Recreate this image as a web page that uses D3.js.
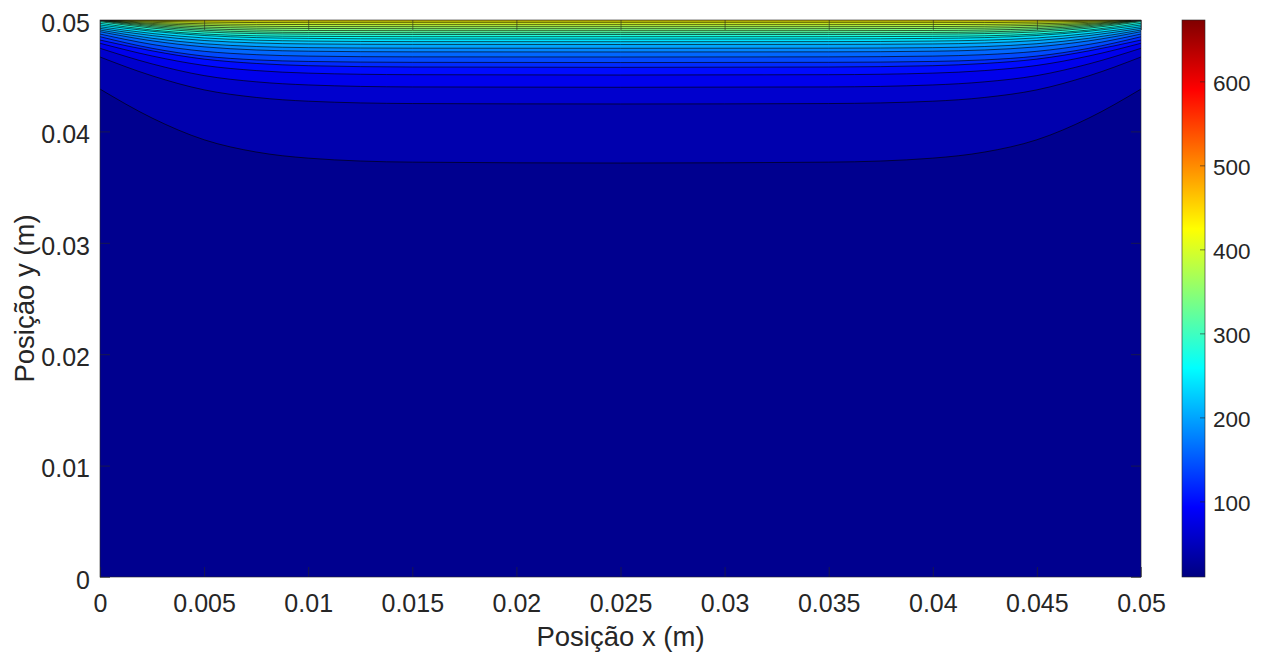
<!DOCTYPE html>
<html>
<head>
<meta charset="utf-8">
<script src="https://cdn.jsdelivr.net/npm/d3@7"></script>
<style>
  html, body { margin: 0; padding: 0; background: #fff; }
  svg { display: block; font-family: "Liberation Sans", Arial, Helvetica, sans-serif; }
</style>
</head>
<body>
<div id="chart"></div>
<script>
const xRead = [0, 0.0025, 0.005, 0.0075, 0.01, 0.015, 0.025, 0.035, 0.04, 0.0425, 0.045, 0.0475, 0.05]

// temperature of each filled band, lowest first (band 0 is the background,
// band i > 0 lies above contour line i - 1)
const bandTemps = [20, 40, 60, 80, 100, 120, 140, 160, 180, 200, 220, 240, 260, 280, 300, 320, 340, 360, 380, 400, 420, 440]

// depth of each contour line below the top edge (mm), at xRead; levels 40 .. 440
const lineDepthMm = [
  [6.20, 8.80, 10.75, 11.85, 12.40, 12.76, 12.84, 12.76, 12.40, 11.85, 10.75, 8.80, 6.20],
  [3.32, 5.01, 6.27, 6.95, 7.29, 7.50, 7.54, 7.50, 7.29, 6.95, 6.27, 5.01, 3.32],
  [2.54, 3.94, 4.99, 5.55, 5.83, 6.01, 6.04, 6.01, 5.83, 5.55, 4.99, 3.94, 2.54],
  [2.09, 3.23, 4.08, 4.54, 4.77, 4.91, 4.94, 4.91, 4.77, 4.54, 4.08, 3.23, 2.09],
  [1.80, 2.77, 3.51, 3.90, 4.10, 4.22, 4.25, 4.22, 4.10, 3.90, 3.51, 2.77, 1.80],
  [1.50, 2.54, 3.24, 3.58, 3.72, 3.80, 3.82, 3.80, 3.72, 3.58, 3.24, 2.54, 1.50],
  [1.26, 2.19, 2.81, 3.11, 3.24, 3.31, 3.32, 3.31, 3.24, 3.11, 2.81, 2.19, 1.26],
  [1.05, 1.87, 2.41, 2.69, 2.80, 2.86, 2.87, 2.86, 2.80, 2.69, 2.41, 1.87, 1.05],
  [0.90, 1.64, 2.13, 2.38, 2.48, 2.53, 2.54, 2.53, 2.48, 2.38, 2.13, 1.64, 0.90],
  [0.75, 1.40, 1.84, 2.06, 2.15, 2.19, 2.20, 2.19, 2.15, 2.06, 1.84, 1.40, 0.75],
  [0.60, 1.21, 1.61, 1.81, 1.89, 1.94, 1.95, 1.94, 1.89, 1.81, 1.61, 1.21, 0.60],
  [0.45, 1.01, 1.39, 1.58, 1.65, 1.70, 1.71, 1.70, 1.65, 1.58, 1.39, 1.01, 0.45],
  [0.30, 0.90, 1.26, 1.42, 1.47, 1.50, 1.50, 1.50, 1.47, 1.42, 1.26, 0.90, 0.30],
  [0.15, 0.73, 1.07, 1.22, 1.27, 1.30, 1.30, 1.30, 1.27, 1.22, 1.07, 0.73, 0.15],
  [0.07, 0.61, 0.92, 1.07, 1.12, 1.14, 1.14, 1.14, 1.12, 1.07, 0.92, 0.61, 0.07],
  [0.04, 0.50, 0.78, 0.90, 0.94, 0.96, 0.96, 0.96, 0.94, 0.90, 0.78, 0.50, 0.04],
  [0.02, 0.40, 0.63, 0.73, 0.76, 0.78, 0.78, 0.78, 0.76, 0.73, 0.63, 0.40, 0.02],
  [0.01, 0.31, 0.48, 0.56, 0.59, 0.60, 0.60, 0.60, 0.59, 0.56, 0.48, 0.31, 0.01],
  [0.00, 0.21, 0.34, 0.39, 0.41, 0.42, 0.42, 0.42, 0.41, 0.39, 0.34, 0.21, 0.00],
  [0.00, 0.12, 0.19, 0.23, 0.24, 0.24, 0.24, 0.24, 0.24, 0.23, 0.19, 0.12, 0.00],
  [0.00, 0.04, 0.07, 0.08, 0.09, 0.09, 0.09, 0.09, 0.09, 0.08, 0.07, 0.04, 0.00]
]

const plateSize = [0.05, 0.05]
const tempRange = [10, 673]
const xTicks = [0, 0.005, 0.01, 0.015, 0.02, 0.025, 0.03, 0.035, 0.04, 0.045, 0.05]
const yTicks = [0, 0.01, 0.02, 0.03, 0.04, 0.05]
const colorTicks = [100, 200, 300, 400, 500, 600]

const width = 1263
const height = 652
const margin = { top: 20, right: 122, bottom: 75, left: 100 }
const ink = '#262626'

const svg = d3.select('#chart')
  .append('svg')
  .attr('width', width)
  .attr('height', height)
  .attr('viewBox', [0, 0, width, height].join(' '))

const x = d3.scaleLinear()
  .domain([0, plateSize[0]])
  .range([margin.left, width - margin.right])

const y = d3.scaleLinear()
  .domain([0, plateSize[1]])
  .range([height - margin.bottom, margin.top])

// jet colormap
const jetStops = [0, 1 / 8, 3 / 8, 5 / 8, 7 / 8, 1]
const jetColors = ['#000080', '#0000ff', '#00ffff', '#ffff00', '#ff0000', '#800000']
const color = d3.scaleLinear()
  .domain(jetStops.map(t => tempRange[0] + t * (tempRange[1] - tempRange[0])))
  .range(jetColors)
  .clamp(true)

svg.append('defs')
  .append('clipPath')
  .attr('id', 'plate')
  .append('rect')
  .attr('x', x(0))
  .attr('y', y(plateSize[1]))
  .attr('width', x(plateSize[0]) - x(0))
  .attr('height', y(0) - y(plateSize[1]))

const plot = svg.append('g').attr('clip-path', 'url(#plate)')

// background band
plot.append('rect')
  .attr('x', x(0))
  .attr('y', y(plateSize[1]))
  .attr('width', x(plateSize[0]) - x(0))
  .attr('height', y(0) - y(plateSize[1]))
  .attr('fill', color(bandTemps[0]))

const lineData = lineDepthMm.map((depths, i) => ({
  temp: bandTemps[i + 1],
  points: depths.map((d, j) => [xRead[j], plateSize[1] - d / 1000])
}))

const area = d3.area()
  .x(([px]) => x(px))
  .y0(y(plateSize[1]))
  .y1(([, py]) => y(py))
  .curve(d3.curveMonotoneX)

const line = d3.line()
  .x(([px]) => x(px))
  .y(([, py]) => y(py))
  .curve(d3.curveMonotoneX)

plot.append('g')
  .attr('class', 'bands')
  .selectAll('path')
  .data(lineData)
  .join('path')
  .attr('fill', d => color(d.temp))
  .attr('d', d => area(d.points))

plot.append('g')
  .attr('class', 'contours')
  .selectAll('path')
  .data(lineData)
  .join('path')
  .attr('fill', 'none')
  .attr('stroke', '#000')
  .attr('stroke-opacity', 0.85)
  .attr('stroke-width', 0.75)
  .attr('d', d => line(d.points))

// axes, ticks inward on all four sides
const fmt = d3.format('~g')
const tickLen = 10

const styleAxis = g => {
  g.select('.domain').remove()
  g.selectAll('.tick line').attr('stroke', ink).attr('stroke-width', 0.6)
  g.selectAll('.tick text').attr('fill', ink).attr('font-size', 25)
}

svg.append('g')
  .attr('transform', `translate(0,${y(0)})`)
  .call(d3.axisBottom(x).tickValues(xTicks).tickFormat(fmt).tickSizeInner(-tickLen).tickSizeOuter(0).tickPadding(17))
  .call(styleAxis)

svg.append('g')
  .attr('transform', `translate(0,${y(plateSize[1])})`)
  .call(d3.axisTop(x).tickValues(xTicks).tickFormat('').tickSizeInner(-tickLen).tickSizeOuter(0))
  .call(styleAxis)

svg.append('g')
  .attr('transform', `translate(${x(0)},0)`)
  .call(d3.axisLeft(y).tickValues(yTicks).tickFormat(fmt).tickSizeInner(-tickLen).tickSizeOuter(0).tickPadding(10))
  .call(styleAxis)
  .call(g => g.selectAll('.tick text').attr('dy', '0.45em'))

svg.append('g')
  .attr('transform', `translate(${x(plateSize[0])},0)`)
  .call(d3.axisRight(y).tickValues(yTicks).tickFormat('').tickSizeInner(-tickLen).tickSizeOuter(0))
  .call(styleAxis)

svg.append('rect')
  .attr('x', x(0))
  .attr('y', y(plateSize[1]))
  .attr('width', x(plateSize[0]) - x(0))
  .attr('height', y(0) - y(plateSize[1]))
  .attr('fill', 'none')
  .attr('stroke', ink)
  .attr('stroke-width', 0.6)

svg.append('text')
  .attr('x', (x(0) + x(plateSize[0])) / 2)
  .attr('y', 646)
  .attr('text-anchor', 'middle')
  .attr('font-size', 27.5)
  .attr('fill', ink)
  .text('Posição x (m)')

svg.append('text')
  .attr('transform', `translate(34,${(y(0) + y(plateSize[1])) / 2}) rotate(-90)`)
  .attr('text-anchor', 'middle')
  .attr('font-size', 27.5)
  .attr('fill', ink)
  .text('Posição y (m)')

// colorbar
const cbX = 1182
const cbW = 23
const cScale = d3.scaleLinear()
  .domain(tempRange)
  .range([y(0), y(plateSize[1])])

const grad = svg.select('defs')
  .append('linearGradient')
  .attr('id', 'jet')
  .attr('x1', 0).attr('y1', 1)
  .attr('x2', 0).attr('y2', 0)

grad.selectAll('stop')
  .data(jetStops)
  .join('stop')
  .attr('offset', d => d)
  .attr('stop-color', (d, i) => jetColors[i])

svg.append('rect')
  .attr('x', cbX)
  .attr('y', cScale(tempRange[1]))
  .attr('width', cbW)
  .attr('height', cScale(tempRange[0]) - cScale(tempRange[1]))
  .attr('fill', 'url(#jet)')
  .attr('stroke', ink)
  .attr('stroke-width', 0.6)

svg.append('g')
  .attr('transform', `translate(${cbX + cbW},0)`)
  .call(d3.axisRight(cScale).tickValues(colorTicks).tickSizeInner(-5).tickSizeOuter(0).tickPadding(8))
  .call(g => g.select('.domain').remove())
  .call(g => g.selectAll('.tick line').attr('stroke', ink).attr('stroke-width', 0.6))
  .call(g => g.selectAll('.tick text').attr('fill', ink).attr('font-size', 22.5).attr('dy', '0.4em'))
</script>
</body>
</html>
